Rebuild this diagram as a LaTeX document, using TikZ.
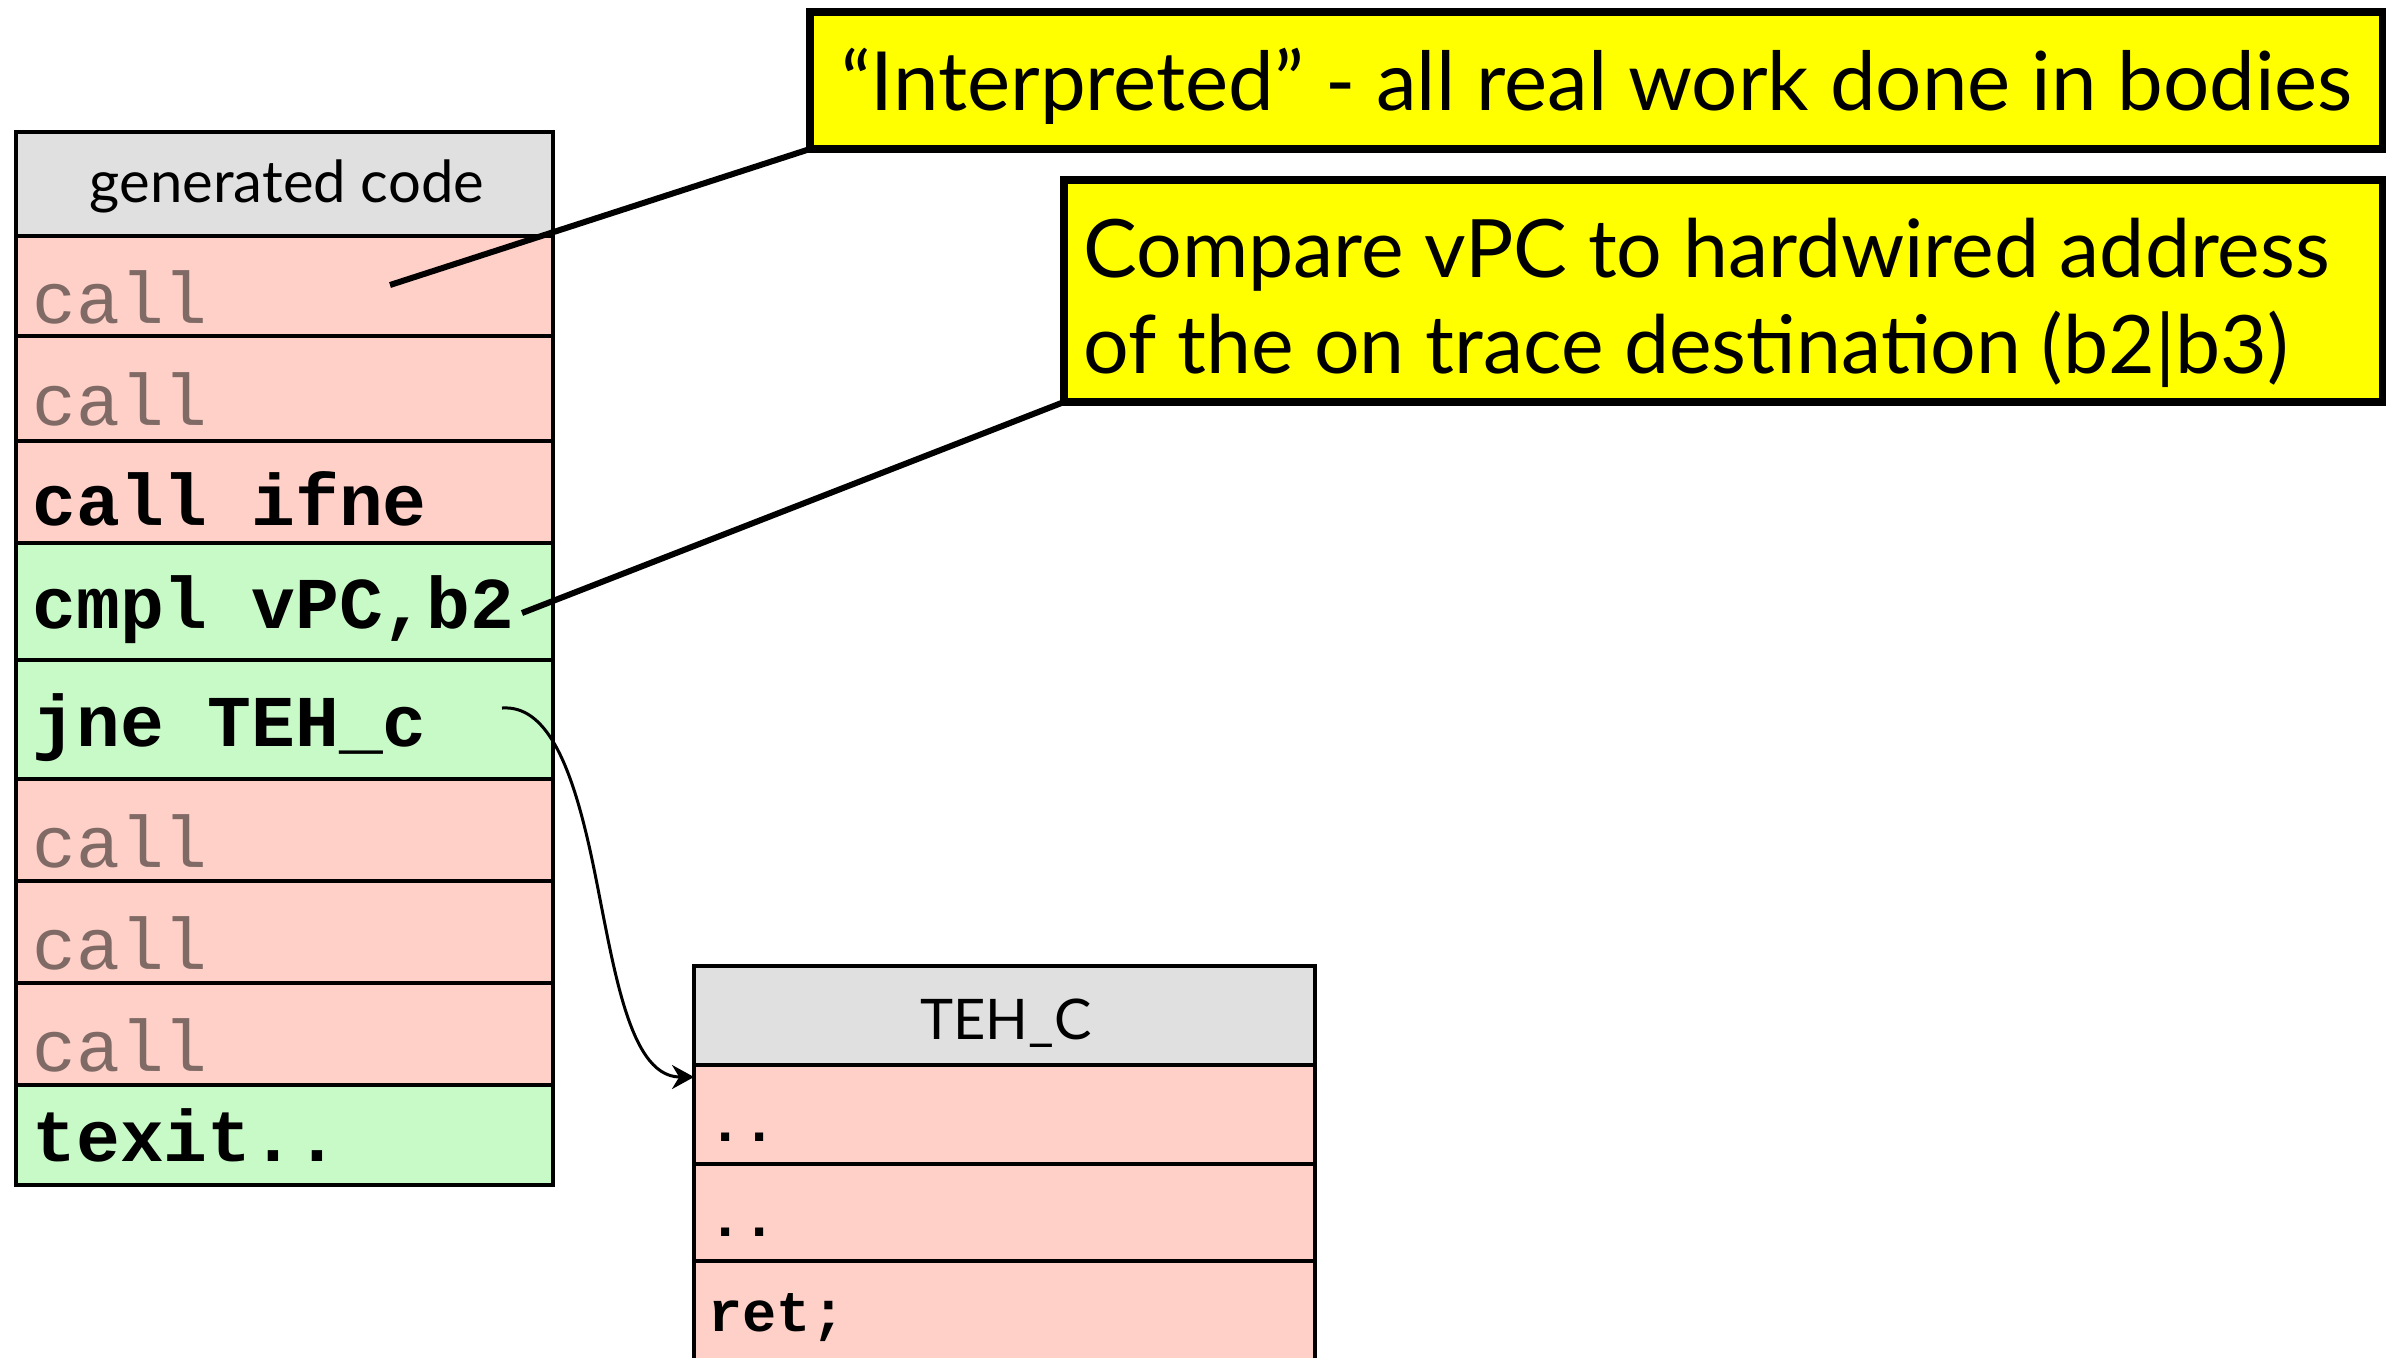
\documentclass[tikz,border=0pt]{standalone}
\usepackage{fontspec}
\setmainfont{Lato}
\newfontfamily\codefont{Liberation Mono}
\usetikzlibrary{arrows.meta}
\definecolor{hdr}{RGB}{224,224,224}
\definecolor{redrow}{RGB}{255,208,200}
\definecolor{grnrow}{RGB}{200,250,200}
\definecolor{graytxt}{RGB}{128,106,102}
\definecolor{yel}{RGB}{255,255,0}
\tikzset{
  rowbox/.style={draw=black, line width=2.4pt, anchor=north west, inner sep=0pt, outer sep=0pt, minimum width=268.5pt},
  rowboxb/.style={draw=black, line width=2.4pt, anchor=north west, inner sep=0pt, outer sep=0pt, minimum width=310.5pt},
  codeL/.style={anchor=base west, inner sep=0pt, font=\codefont\fontsize{36.5}{40}\selectfont},
  codeR/.style={anchor=base west, inner sep=0pt, font=\codefont\bfseries\fontsize{28.5}{32}\selectfont},
  greytext/.style={text=graytxt},
  boldtext/.style={font=\codefont\bfseries\fontsize{36.5}{40}\selectfont},
  hdrtext/.style={anchor=base, inner sep=0pt, font=\fontsize{29}{32}\selectfont},
  yelbox/.style={draw=black, fill=yel, line width=3.6pt, anchor=north west, inner sep=0pt, outer sep=0pt},
  yeltext/.style={inner sep=0pt, font=\fontsize{40.3}{48}\selectfont},
  callout/.style={draw=black, line width=3pt},
  jump/.style={draw=black, line width=1.5pt, -{Stealth[length=11pt,width=12pt]}}
}
\begin{document}
\begin{tikzpicture}[x=0.5pt,y=-0.5pt]
\useasboundingbox (0,0) rectangle (2386,1357);

% left table
\node[rowbox, fill=hdr,    minimum height=52pt]   (g0) at (16,132) {};
\node[rowbox, fill=redrow, minimum height=50pt]   (g1) at (16,236) {};
\node[rowbox, fill=redrow, minimum height=52.5pt] (g2) at (16,336) {};
\node[rowbox, fill=redrow, minimum height=51pt]   (g3) at (16,441) {};
\node[rowbox, fill=grnrow, minimum height=58.5pt] (g4) at (16,543) {};
\node[rowbox, fill=grnrow, minimum height=59.5pt] (g5) at (16,660) {};
\node[rowbox, fill=redrow, minimum height=51pt]   (g6) at (16,779) {};
\node[rowbox, fill=redrow, minimum height=51pt]   (g7) at (16,881) {};
\node[rowbox, fill=redrow, minimum height=51pt]   (g8) at (16,983) {};
\node[rowbox, fill=grnrow, minimum height=50pt]   (g9) at (16,1085) {};

\node[hdrtext] (gh) at (287,202) {generated code};
\node[codeL, greytext] (t1) at (32,323) {call};
\node[codeL, greytext] (t2) at (32,425) {call};
\node[codeL, boldtext] (t3) at (32,525) {call ifne};
\node[codeL, boldtext] (t4) at (32,628) {cmpl vPC,b2};
\node[codeL, boldtext] (t5) at (32,746) {jne TEH\_c};
\node[codeL, greytext] (t6) at (32,867) {call};
\node[codeL, greytext] (t7) at (32,969) {call};
\node[codeL, greytext] (t8) at (32,1071) {call};
\node[codeL, boldtext] (t9) at (32,1161) {texit..};

% right table
\node[rowboxb, fill=hdr,    minimum height=49.5pt] (r0) at (694,966) {};
\node[rowboxb, fill=redrow, minimum height=49.5pt] (r1) at (694,1065) {};
\node[rowboxb, fill=redrow, minimum height=48.5pt] (r2) at (694,1164) {};
\node[rowboxb, fill=redrow, minimum height=60pt]   (r3) at (694,1261) {};
\node[hdrtext, font=\fontsize{28}{32}\selectfont] (rh) at (1006,1039) {TEH\_C};
\node[codeR] (u1) at (708,1141) {..};
\node[codeR] (u2) at (708,1236) {..};
\node[codeR] (u3) at (708,1331) {ret;};

% yellow callouts
\node[yelbox, minimum width=786.5pt, minimum height=68.5pt] (y1) at (810,12) {};
\node[yeltext, font=\fontsize{40.8}{48}\selectfont, anchor=base] (y1t) at (1597,110) {“Interpreted” - all real work done in bodies};
\node[yelbox, minimum width=659.5pt, minimum height=111pt] (y2) at (1064,180) {};
\node[yeltext, anchor=base west] (y2a) at (1083,277) {Compare vPC to hardwired address};
\node[yeltext, anchor=base west] (y2b) at (1083,373) {of the on trace destination (b2|b3)};

\coordinate (c1) at (390,285);
\coordinate (c2) at (522,613);
\draw[callout] (y1.south west) -- (c1);
\draw[callout] (y2.south west) -- (c2);

% jump arrow
\coordinate (j0) at (502,708);
\coordinate (j1) at (590,850);
\draw[jump] (j0) .. controls (545,705) and (570,760) .. (j1) .. controls (612,950) and (625,1077) .. (r1.north west |- 0,1077);
\end{tikzpicture}
\end{document}
